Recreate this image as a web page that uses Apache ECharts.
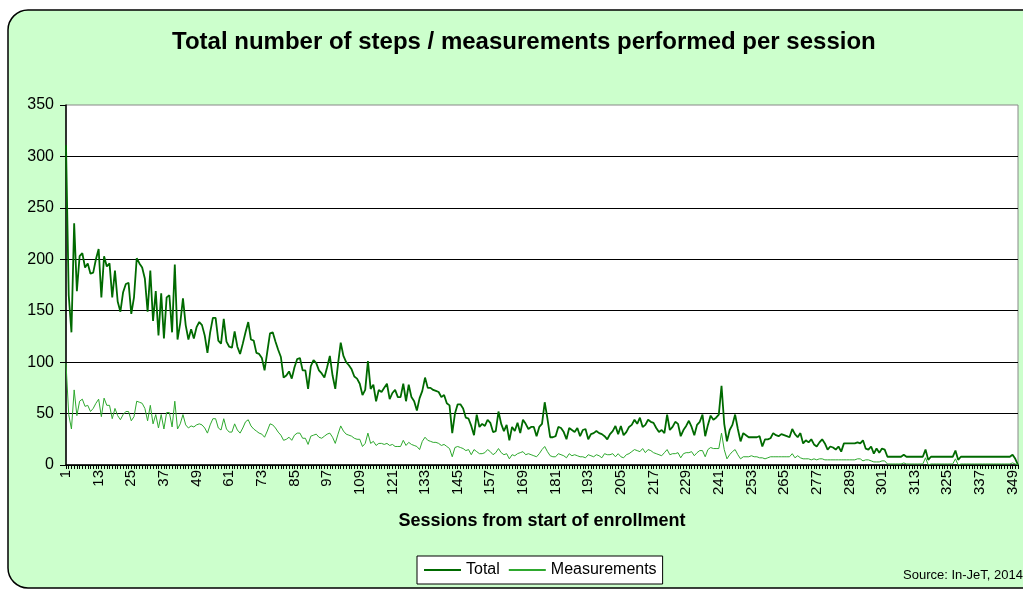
<!DOCTYPE html>
<html lang="en">

<head>
  <meta charset="UTF-8">
  <title>Steps / measurements per session</title>
  <script src="https://cdn.jsdelivr.net/npm/echarts/dist/echarts.min.js"></script>
  <style>
    html, body { margin: 0; padding: 0; background: #fff; }
    #chartBox { width: 1023px; height: 590px; }
  </style>
</head>

<body>
  <div id="chartBox"></div>
  <script>
    // session numbers 1..351 (x axis categories)
    const sessions = []
    for (let i = 1; i <= 351; i++) sessions.push(String(i))

    // y axis ticks
    const yTicks = [0, 50, 100, 150, 200, 250, 300, 350]

    const totalVals = [
      311, 165, 129, 235, 169, 203, 206, 192, 196, 186,
      187, 200, 210, 163, 203, 193, 196, 163, 189, 159,
      149, 168, 176, 177, 147, 163, 201, 196, 192, 181,
      149, 189, 140, 169, 126, 167, 123, 163, 165, 129,
      195, 122, 138, 162, 136, 122, 132, 123, 134, 139,
      136, 126, 109, 129, 143, 143, 121, 118, 142, 120,
      115, 114, 130, 115, 108, 118, 129, 139, 122, 121,
      109, 108, 104, 92, 110, 128, 129, 120, 112, 105,
      85, 87, 91, 84, 95, 103, 104, 92, 92, 74,
      96, 102, 99, 92, 89, 85, 95, 106, 87, 74,
      98, 119, 106, 100, 97, 93, 86, 84, 79, 68,
      73, 101, 74, 78, 62, 73, 71, 75, 79, 64,
      70, 73, 66, 66, 79, 62, 78, 66, 62, 53,
      65, 72, 85, 75, 75, 73, 72, 71, 66, 68,
      60, 58, 31, 50, 59, 59, 55, 46, 45, 38,
      29, 49, 37, 40, 38, 44, 41, 32, 33, 52,
      40, 33, 39, 24, 37, 33, 41, 31, 44, 40,
      35, 37, 37, 28, 37, 40, 61, 45, 27, 27,
      28, 37, 36, 32, 25, 36, 34, 32, 36, 28,
      34, 35, 25, 30, 31, 33, 31, 30, 28, 25,
      30, 33, 38, 30, 38, 29, 32, 37, 39, 44,
      40, 46, 37, 39, 44, 42, 41, 36, 32, 34,
      31, 49, 34, 37, 42, 40, 28, 34, 38, 43,
      37, 29, 39, 42, 49, 28, 39, 48, 44, 46,
      49, 77, 40, 23, 34, 39, 49, 35, 23, 31,
      29, 27, 27, 27, 27, 28, 18, 25, 25, 26,
      31, 29, 28, 30, 29, 28, 27, 35, 30, 27,
      31, 21, 24, 22, 25, 20, 18, 22, 25, 21,
      15, 18, 17, 15, 18, 13, 21, 21, 21, 21,
      21, 22, 21, 24, 16, 15, 18, 11, 16, 12,
      16, 15, 8, 8, 8, 8, 8, 8, 10, 8,
      8, 8, 8, 8, 8, 8, 15, 5, 8, 8,
      8, 8, 8, 8, 8, 8, 8, 14, 5, 8,
      8, 8, 8, 8, 8, 8, 8, 8, 8, 8,
      8, 8, 8, 8, 8, 8, 8, 8, 10, 6, 0
    ]

    const measurementVals = [
      99, 49, 35, 73, 48, 62, 64, 57, 58, 52,
      55, 60, 64, 47, 65, 58, 58, 45, 55, 48,
      44, 49, 52, 52, 43, 47, 62, 61, 60, 55,
      43, 58, 40, 49, 36, 49, 35, 51, 51, 37,
      62, 35, 40, 49, 39, 36, 38, 37, 39, 40,
      39, 36, 31, 39, 45, 45, 36, 34, 45, 35,
      32, 32, 40, 34, 31, 36, 42, 44, 38, 35,
      33, 31, 30, 27, 33, 40, 39, 36, 32, 29,
      24, 25, 27, 24, 29, 31, 31, 26, 26, 20,
      28, 29, 30, 27, 26, 28, 30, 31, 27, 21,
      30, 38, 33, 30, 29, 28, 26, 25, 25, 18,
      21, 31, 21, 23, 19, 21, 21, 20, 21, 19,
      20, 18, 18, 18, 24, 19, 22, 20, 19, 18,
      15, 23, 27, 24, 23, 22, 22, 21, 19, 20,
      18, 16, 8, 17, 18, 17, 16, 14, 15, 10,
      15, 13, 11, 11, 12, 15, 13, 10, 12, 16,
      12, 10, 11, 6, 10, 9, 11, 12, 13, 10,
      11, 10, 9, 8, 11, 15, 18, 13, 9, 8,
      8, 11, 10, 9, 7, 11, 9, 10, 9, 8,
      8, 7, 10, 9, 8, 10, 9, 7, 11, 10,
      10, 11, 8, 11, 8, 7, 10, 11, 13, 15,
      14, 13, 16, 12, 15, 14, 12, 11, 10, 9,
      12, 15, 10, 11, 11, 12, 7, 11, 12, 12,
      13, 9, 12, 14, 14, 8, 15, 17, 16, 16,
      16, 31, 15, 6, 10, 13, 15, 10, 6, 8,
      8, 8, 9, 8, 8, 7, 7, 6, 7, 8,
      8, 8, 8, 8, 8, 8, 8, 11, 7, 9,
      7, 6, 6, 6, 5, 6, 5, 6, 6, 5,
      5, 5, 5, 5, 5, 5, 5, 5, 5, 5,
      5, 6, 6, 4, 5, 5, 4, 3, 3, 3,
      4, 4, 1, 1, 1, 1, 1, 1, 2, 1,
      1, 1, 1, 1, 1, 1, 7, 0, 1, 1,
      1, 1, 1, 1, 1, 1, 1, 6, 0, 1,
      1, 1, 1, 1, 1, 1, 1, 1, 1, 1,
      1, 1, 1, 1, 1, 1, 1, 1, 2, 1, 0
    ]

    const font = 'Arial, "Liberation Sans", sans-serif'

    const chart = echarts.init(document.getElementById('chartBox'))
    chart.setOption({
      animation: false,
      backgroundColor: '#fff',
      // rounded light green chart box
      graphic: [{
        type: 'rect',
        z: -10,
        shape: { x: 8, y: 10, width: 1040, height: 578, r: 20 },
        style: { fill: '#ccffcc', stroke: '#000', lineWidth: 1.5 }
      }, {
        type: 'text',
        left: 903,
        top: 569,
        style: { text: 'Source: In-JeT, 2014', font: '13px ' + font, fill: '#000' }
      }],
      title: {
        text: 'Total number of steps / measurements performed per session',
        left: 172,
        top: 30,
        padding: 0,
        textStyle: { fontFamily: font, fontSize: 24, fontWeight: 'bold', color: '#000' }
      },
      legend: {
        left: 417,
        top: 556,
        padding: [6, 6],
        itemWidth: 37,
        itemHeight: 10,
        itemGap: 8,
        backgroundColor: '#fff',
        borderColor: '#000',
        borderWidth: 1,
        borderRadius: 0,
        itemStyle: { opacity: 0 },
        textStyle: { fontFamily: font, fontSize: 16, color: '#000' },
        data: ['Total', 'Measurements']
      },
      grid: {
        left: 66,
        right: 5,
        top: 105,
        bottom: 125,
        show: true,
        backgroundColor: '#fff',
        borderColor: '#888',
        borderWidth: 1
      },
      xAxis: {
        type: 'category',
        data: sessions,
        boundaryGap: false,
        name: 'Sessions from start of enrollment',
        nameLocation: 'middle',
        nameGap: 47,
        nameTextStyle: { fontFamily: font, fontSize: 18, fontWeight: 'bold', color: '#000' },
        axisLine: { lineStyle: { color: '#000', width: 1.5 } },
        axisTick: { interval: 0, length: 4, lineStyle: { color: '#000' } },
        axisLabel: {
          interval: 11,
          rotate: 90,
          margin: 5,
          fontFamily: font,
          fontSize: 15,
          color: '#000'
        },
        splitLine: { show: false }
      },
      yAxis: {
        type: 'value',
        min: yTicks[0],
        max: yTicks[yTicks.length - 1],
        interval: 50,
        axisLine: { show: true, lineStyle: { color: '#000', width: 1.5 } },
        axisTick: { show: true, length: 6, lineStyle: { color: '#000' } },
        axisLabel: { margin: 12, fontFamily: font, fontSize: 16, color: '#000' },
        splitLine: { show: true, showMaxLine: false, lineStyle: { color: '#000', width: 1 } }
      },
      series: [{
        name: 'Total',
        type: 'line',
        data: totalVals,
        symbol: 'none',
        color: '#006a00',
        lineStyle: { width: 1.8, color: '#006a00' }
      }, {
        name: 'Measurements',
        type: 'line',
        data: measurementVals,
        symbol: 'none',
        color: '#2ea82e',
        lineStyle: { width: 1, color: '#2ea82e' }
      }]
    })
  </script>
</body>

</html>
